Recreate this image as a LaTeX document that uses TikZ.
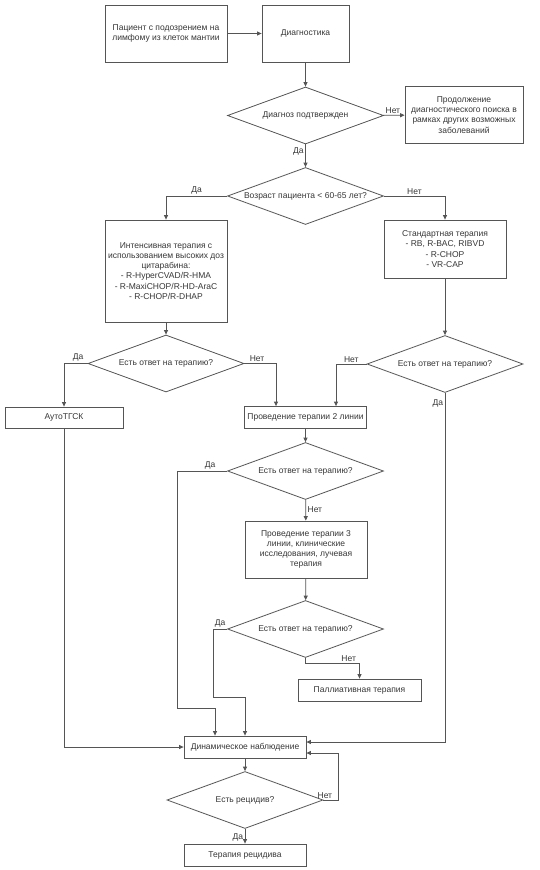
\documentclass[tikz,border=0pt]{standalone}
\usepackage{fontspec}
\setmainfont{Liberation Sans}
\usetikzlibrary{shapes.geometric,arrows.meta}
\definecolor{lc}{RGB}{85,85,85}
\definecolor{tc}{RGB}{55,55,55}
\begin{document}
\begin{tikzpicture}[x=1pt,y=-1pt,
  every node/.style={font=\fontsize{8.5}{10.2}\selectfont, text=tc},
  box/.style={draw=lc, line width=0.8pt, rectangle, inner sep=0pt, align=center, minimum width=122pt},
  dia/.style={draw=lc, line width=0.8pt, diamond, aspect=2.8, inner sep=0pt, minimum width=156pt, minimum height=57pt, align=center},
  arr/.style={draw=lc, line width=0.8pt, -{Triangle[length=4.5pt,width=4pt]}},
  lbl/.style={inner sep=1.5pt}
]
\useasboundingbox (0,0) rectangle (539,870);
\fill[white] (0,0) rectangle (539,870);

\node[box, minimum height=57pt] (b1) at (166,33.5) {Пациент с подозрением на\\лимфому из клеток мантии};
\node[box, minimum height=57pt, minimum width=87pt] (b2) at (305.5,33.5) {Диагностика};
\node[dia] (d1) at (305.5,115.5) {Диагноз подтвержден};
\node[box, minimum height=57pt, minimum width=118pt] (b3) at (464,115) {Продолжение\\диагностического поиска в\\рамках других возможных\\заболеваний};
\node[dia] (d2) at (305.5,196) {Возраст пациента < 60-65 лет?};
\node[box, minimum height=102pt] (b4) at (166,271) {Интенсивная терапия с\\использованием высоких доз\\цитарабина:\\- R-HyperCVAD/R-HMA\\- R-MaxiCHOP/R-HD-AraC\\- R-CHOP/R-DHAP};
\node[box, minimum height=58pt] (b5) at (445,249) {Стандартная терапия\\- RB, R-BAC, RIBVD\\- R-CHOP\\- VR-CAP};
\node[dia] (d3) at (166,363.5) {Есть ответ на терапию?};
\node[dia] (d4) at (445,364) {Есть ответ на терапию?};
\node[box, minimum height=21pt, minimum width=118pt] (b6) at (64,417.5) {АутоТГСК};
\node[box, minimum height=22pt] (b7) at (305.5,417.5) {Проведение терапии 2 линии};
\node[dia] (d5) at (305.5,471) {Есть ответ на терапию?};
\node[box, minimum height=57pt] (b8) at (306,549.5) {Проведение терапии 3\\линии, клинические\\исследования, лучевая\\терапия};
\node[dia] (d6) at (305.5,629) {Есть ответ на терапию?};
\node[box, minimum height=22pt, minimum width=123pt] (b9) at (359.5,690) {Паллиативная терапия};
\node[box, minimum height=22pt] (dyn) at (245,747) {Динамическое наблюдение};
\node[dia] (d7) at (245,800) {Есть рецидив?};
\node[box, minimum height=22pt] (b11) at (245,855) {Терапия рецидива};

\draw[arr] (b1) -- (b2);
\draw[arr] (b2) -- (d1);
\draw[arr] (d1) -- node[lbl, above, pos=0.45] (l1) {Нет} (b3);
\draw[arr] (d1) -- node[lbl, left, pos=0.3] (l2) {Да} (d2);
\draw[arr] (d2.west) -| node[lbl, above, pos=0.25] (l3) {Да} (b4.north);
\draw[arr] (d2.east) -| node[lbl, above, pos=0.25] (l4) {Нет} (b5.north);
\draw[arr] (b4) -- (d3);
\draw[arr] (b5) -- (d4);
\draw[arr] (d3.west) -| node[lbl, above, pos=0.2] (l5) {Да} (b6.north);
\draw[arr] (d3.east) -| node[lbl, above, pos=0.2] (l6) {Нет} ([xshift=-29.5pt]b7.north);
\draw[arr] (d4.west) -| node[lbl, above, pos=0.25] (l7) {Нет} ([xshift=30.5pt]b7.north);
\draw[arr] (d4.south) |- node[lbl, left, pos=0.015] (l8) {Да} ([yshift=5pt]dyn.east);
\draw[arr] (b7) -- (d5);
\draw[arr] (d5.west) -| node[lbl, above, pos=0.17] (l9) {Да} (177,708) -| ([xshift=-30pt]dyn.north);
\draw[arr] (d5) -- node[lbl, right, pos=0.45] (l10) {Нет} (b8);
\draw[arr] (b8) -- (d6);
\draw[arr] (d6.west) -| node[lbl, above, pos=0.25] (l11) {Да} (213,697) -| (dyn.north);
\draw[arr] (d6.south) -- ++(0,5.5) -| node[lbl, above, pos=0.4] (l12) {Нет} (b9.north);
\draw[arr] (b6.south) |- (dyn.west);
\draw[arr] (dyn) -- (d7);
\draw[arr] (d7.east) -- node[lbl, above, pos=0.1] (l13) {Нет} ++(15,0) |- ([yshift=-6pt]dyn.east);
\draw[arr] (d7) -- node[lbl, left, pos=0.55] (l14) {Да} (b11);
\end{tikzpicture}
\end{document}
